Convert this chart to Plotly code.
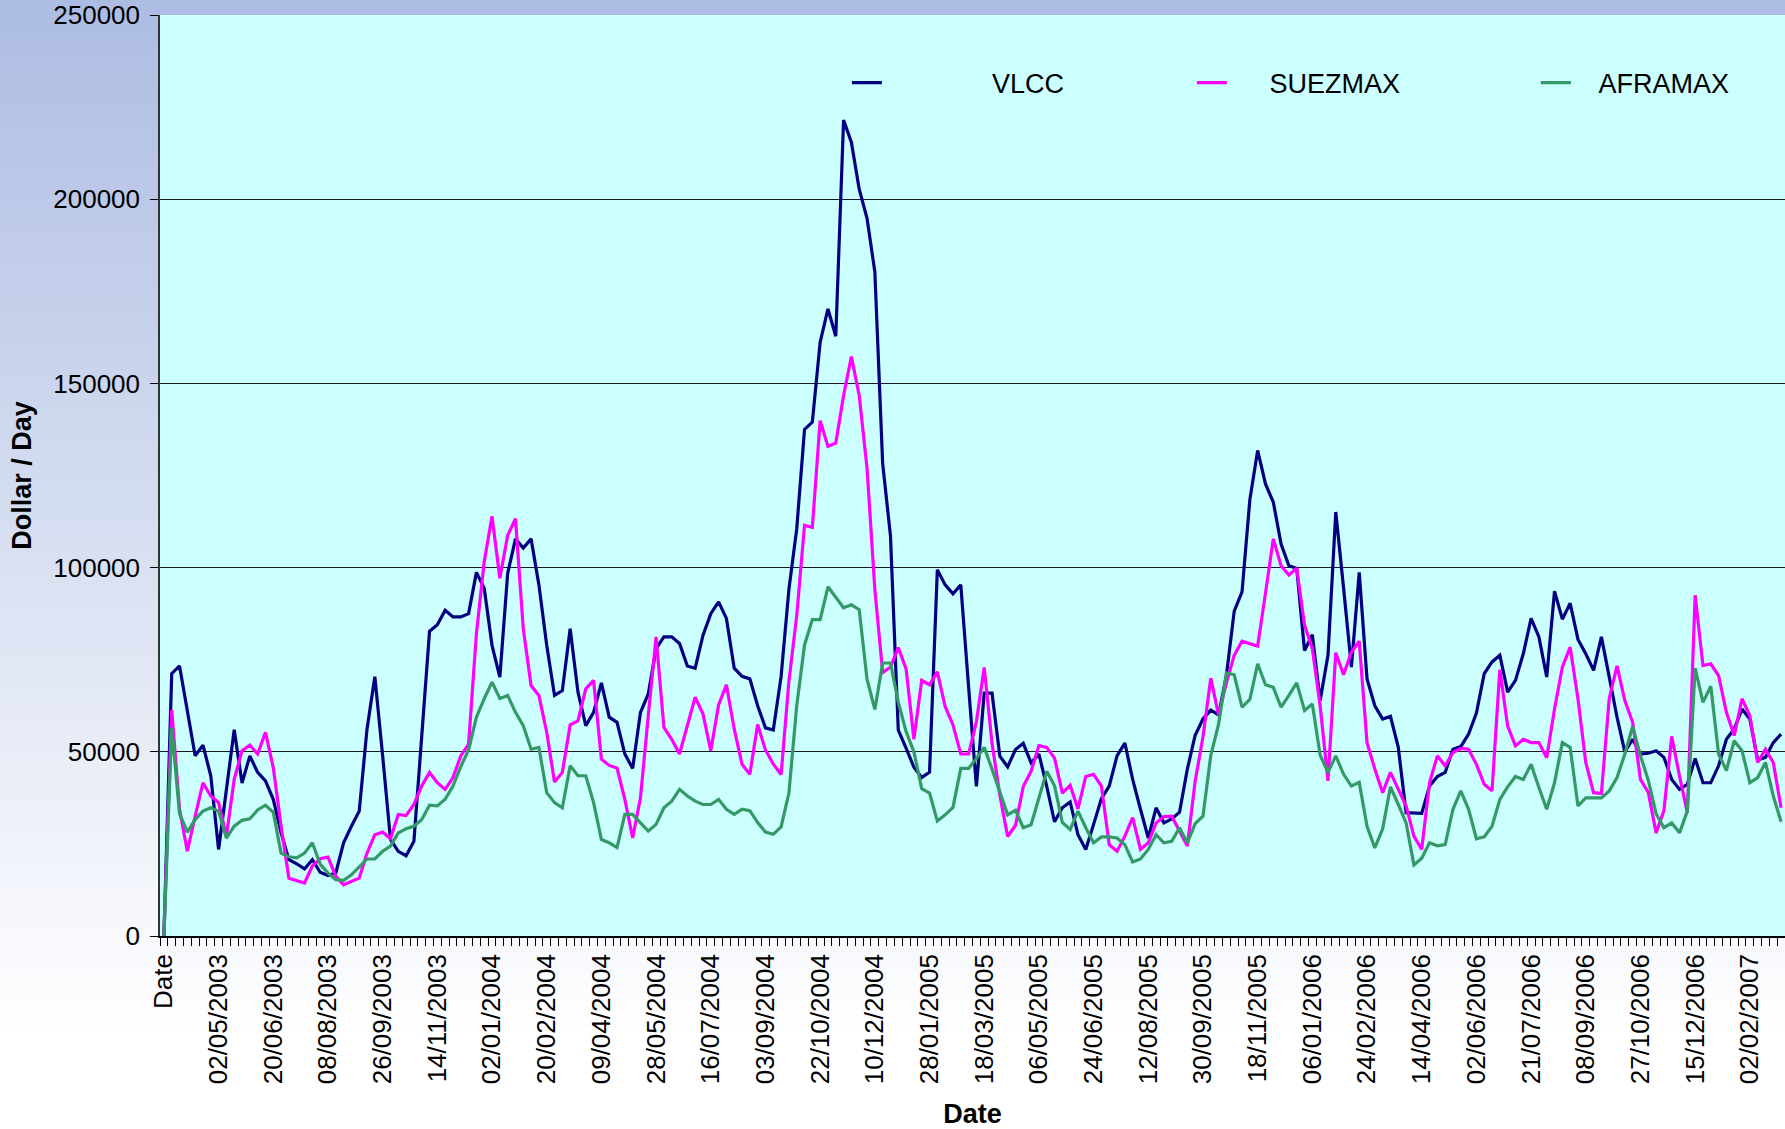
import plotly.graph_objects as go
import pandas as pd

# ---------------- data ----------------
first_category = "Date"
week_dates = pd.date_range("2003-03-21", periods=207, freq="7D").strftime("%d/%m/%Y").tolist()
categories = [first_category] + week_dates

tick_labels = ["Date", "02/05/2003", "20/06/2003", "08/08/2003", "26/09/2003", "14/11/2003",
               "02/01/2004", "20/02/2004", "09/04/2004", "28/05/2004", "16/07/2004",
               "03/09/2004", "22/10/2004", "10/12/2004", "28/01/2005", "18/03/2005",
               "06/05/2005", "24/06/2005", "12/08/2005", "30/09/2005", "18/11/2005",
               "06/01/2006", "24/02/2006", "14/04/2006", "02/06/2006", "21/07/2006",
               "08/09/2006", "27/10/2006", "15/12/2006", "02/02/2007"]

vlcc = [0, 71200, 73300, 61000, 48900, 51800, 43500, 23500, 39400, 56000,
        41500, 48900, 44400, 42100, 37100, 28000, 20700, 19600, 18200, 20700,
        17300, 16400, 17100, 25300, 29800, 33900, 56200, 70400, 48900, 26200,
        23000, 21800, 25700, 54800, 82700, 84500, 88400, 86600, 86600, 87500,
        98700, 94400, 78900, 70300, 98400, 107800, 105300, 107800, 95300, 78900,
        65300, 66600, 83400, 66200, 57100, 60700, 68700, 59400, 58000, 49400,
        45500, 60700, 65700, 78000, 81200, 81200, 79400, 73300, 72700, 81600,
        87500, 90700, 86200, 72700, 70500, 69800, 62500, 56500, 55900, 70400,
        94100, 110500, 137500, 139500, 161200, 170200, 162800, 221500, 215400, 202700,
        194800, 180300, 128300, 108600, 55900, 51000, 45800, 43000, 44500, 99400,
        95300, 92900, 95300, 67600, 40600, 65900, 65900, 48800, 45900, 50600,
        52300, 47000, 49400, 40600, 31000, 34800, 36400, 27500, 23500, 30300,
        37300, 40700, 48900, 52400, 42500, 34400, 26600, 34800, 30700, 31800,
        33600, 45300, 54500, 58900, 61300, 60000, 70700, 88200, 93400, 118400,
        131800, 122700, 117800, 106400, 100500, 99800, 77500, 81800, 63900, 76200,
        115100, 94400, 73000, 98700, 69800, 62500, 58900, 59600, 51200, 33500,
        33300, 33300, 40700, 43300, 44400, 50700, 51400, 54800, 60500, 71200,
        74400, 76200, 66200, 69400, 76600, 86200, 81200, 70300, 93600, 86000,
        90300, 80500, 76600, 72100, 81200, 70300, 59400, 50000, 53400, 49400,
        49600, 50300, 48500, 42500, 39800, 41200, 48200, 41600, 41600, 46200,
        53400, 56200, 61600, 58900, 47800, 48500, 52500, 54800]

suezmax = [0, 61400, 34400, 23000, 32500, 41600, 38000, 36200, 27100, 42500,
           50300, 51800, 49400, 55300, 45700, 29800, 15700, 15100, 14400, 19000,
           21000, 21400, 16200, 13900, 14800, 15700, 22500, 27500, 28200, 26400,
           33000, 32700, 35700, 40700, 44400, 41600, 39800, 43000, 48900, 52100,
           82000, 101600, 113900, 97100, 108700, 113300, 83400, 68000, 65300, 55300,
           41800, 44400, 57300, 58400, 67100, 69400, 48000, 46300, 45600, 37100,
           26600, 37500, 59800, 81200, 56600, 53400, 49400, 57500, 64800, 60300,
           50300, 62700, 68200, 56200, 46600, 43900, 57400, 50500, 46700, 43800,
           69100, 86900, 111500, 110900, 139900, 132900, 133800, 146700, 157300, 146700,
           127000, 94100, 71500, 73000, 78300, 72500, 53400, 69400, 68200, 71700,
           62300, 57300, 49400, 49400, 58200, 72900, 52300, 38200, 27000, 30000,
           40600, 44700, 51700, 51200, 48300, 38800, 40900, 34500, 43300, 43900,
           40700, 24800, 23000, 27100, 32100, 23500, 25300, 30700, 32400, 32500,
           28500, 24400, 42000, 54000, 70000, 60000, 68700, 76200, 80000, 79400,
           78700, 93000, 107800, 100500, 98000, 99800, 84400, 78000, 62500, 42100,
           76900, 70900, 77100, 80000, 52500, 45300, 38900, 44400, 39800, 35300,
           27100, 23500, 41600, 48900, 46200, 49800, 50900, 50700, 46600, 41200,
           39400, 72300, 57000, 51600, 53400, 52500, 52500, 48400, 61600, 73000,
           78400, 64400, 47100, 38900, 38700, 64400, 73300, 63900, 58000, 42500,
           39000, 28000, 34000, 54200, 43400, 33500, 92500, 73400, 73900, 70700,
           60700, 54400, 64400, 59800, 47100, 50700, 47100, 34800]

aframax = [0, 56600, 33200, 28200, 31600, 33900, 34800, 33900, 26600, 29800,
           31400, 31800, 34200, 35500, 33600, 22500, 21500, 21200, 22500, 25300,
           19500, 17100, 15300, 15100, 16600, 18900, 20900, 20900, 23000, 24400,
           28000, 29100, 29800, 31600, 35500, 35300, 37100, 40700, 46000, 50500,
           59400, 64400, 68900, 64500, 65300, 60700, 57100, 50700, 51200, 38900,
           36200, 34800, 46200, 43500, 43500, 36200, 26200, 25300, 24000, 33000,
           33000, 30700, 28500, 30300, 34800, 36600, 39800, 38000, 36600, 35700,
           35700, 37100, 34400, 33000, 34400, 34000, 30800, 28200, 27600, 29600,
           38800, 62500, 79000, 85900, 85900, 94800, 92100, 89100, 89900, 88600,
           69700, 61500, 74100, 74100, 63500, 55500, 50000, 40000, 38800, 31200,
           32900, 34900, 45500, 45500, 48200, 51200, 45300, 39400, 32900, 34100,
           29400, 30200, 37600, 44700, 40800, 30800, 28900, 33900, 29400, 25300,
           26900, 26900, 26600, 24800, 20100, 20900, 23500, 27500, 25300, 25700,
           29400, 25300, 30500, 32500, 49000, 57500, 71400, 70900, 62100, 64200,
           73900, 68200, 67500, 62100, 65300, 68700, 61200, 63000, 49100, 44400,
           48900, 43900, 40700, 41700, 29800, 23900, 29100, 40500, 35700, 30700,
           19300, 21100, 25300, 24500, 24800, 34400, 39400, 34400, 26400, 26900,
           29800, 37100, 40500, 43300, 42500, 46600, 40300, 34400, 41600, 52500,
           51200, 35300, 37500, 37500, 37500, 39400, 43000, 49400, 56900, 48900,
           42300, 33200, 29400, 30700, 28000, 33900, 72700, 63400, 67800, 49400,
           44900, 53000, 50300, 41600, 43000, 47100, 38000, 31000]

series_names = ["VLCC", "SUEZMAX", "AFRAMAX"]
series_colors = ["#000080", "#FF00FF", "#339966"]

# ---------------- figure ----------------
W, H = 1785, 1129
ML, MR, MT, MB = 160, 0, 15, 193

positions = list(range(len(categories)))
tick_positions = [categories.index(t) for t in tick_labels]

FONT = "Liberation Sans, Arial, sans-serif"
NB = "\u00a0"
legend_ids = ["legend", "legend2", "legend3"]
legend_x = [0.4227, 0.635, 0.8467]
legend_pad = [NB * 14, NB * 5, NB * 3]

fig = go.Figure()
for name, vals, col, pad, lid in zip(series_names, [vlcc, suezmax, aframax],
                                     series_colors, legend_pad, legend_ids):
    fig.add_trace(go.Scatter(
        x=positions, y=vals, mode="lines", name=pad + name, legend=lid,
        line=dict(color=col, width=3.2),
        customdata=categories,
        hovertemplate="%{customdata}: %{y}<extra>" + name + "</extra>",
    ))

# vertical background gradient (paper area), stripes slightly overlapping to avoid seams
plot_w = W - ML - MR
plot_h = H - MT - MB
y_top = 1 + MT / plot_h
y_bot = -MB / plot_h
shapes = []
nstripes = 80
top_rgb = (172, 188, 226)
overlap = 2.0 / plot_h
for k in range(nstripes):
    t0 = k / nstripes
    t1 = (k + 1) / nstripes
    f = min(1.0, ((t0 + t1) / 2) / 0.92)
    r = round(top_rgb[0] + (255 - top_rgb[0]) * f)
    g = round(top_rgb[1] + (255 - top_rgb[1]) * f)
    b = round(top_rgb[2] + (255 - top_rgb[2]) * f)
    y1 = y_top + (y_bot - y_top) * t0 + overlap
    y0 = y_top + (y_bot - y_top) * t1
    if k == 0:
        y1 += 0.05
    if k == nstripes - 1:
        y0 -= 0.05
    shapes.append(dict(type="rect", xref="paper", yref="paper", layer="below",
                       x0=-0.5, x1=1.5, y0=y0, y1=y1,
                       line=dict(width=0), fillcolor=f"rgb({r},{g},{b})"))
shapes.append(dict(type="rect", xref="paper", yref="paper", layer="below",
                   x0=0, x1=1, y0=0, y1=1, line=dict(width=0), fillcolor="#CCFFFF"))

legend_common = dict(orientation="h", xanchor="left", y=0.926, yanchor="middle",
                     bgcolor="rgba(0,0,0,0)", borderwidth=0,
                     font=dict(family=FONT, size=27, color="black"))

fig.update_layout(
    width=W, height=H,
    margin=dict(l=ML, r=MR, t=MT, b=MB, pad=0, autoexpand=False),
    paper_bgcolor="white",
    plot_bgcolor="#CCFFFF",
    font=dict(family=FONT, size=26, color="black"),
    shapes=shapes,
    showlegend=True,
    legend=dict(x=legend_x[0], **legend_common),
    legend2=dict(x=legend_x[1], **legend_common),
    legend3=dict(x=legend_x[2], **legend_common),
    xaxis=dict(
        range=[-0.5, len(categories) - 0.5],
        tickmode="array", tickvals=tick_positions, ticktext=tick_labels,
        tickangle=-90, ticks="", showgrid=False, zeroline=False,
        showline=True, linecolor="black", linewidth=1.5,
        tickfont=dict(family=FONT, size=26, color="black"),
        minor=dict(ticks="outside", tick0=-0.5, dtick=1, ticklen=8,
                   tickcolor="black", tickwidth=1, showgrid=False),
        ticklabelstandoff=6,
        title=dict(text="<b>Date</b>", font=dict(family=FONT, size=27, color="black"), standoff=24),
        automargin=False,
    ),
    yaxis=dict(
        range=[0, 250000], tickmode="linear", tick0=0, dtick=50000, tickformat="d",
        ticks="outside", ticklen=8, tickcolor="black",
        showgrid=True, gridcolor="#1a1a1a", gridwidth=1, zeroline=False,
        showline=True, linecolor="#333333", linewidth=1.5,
        tickfont=dict(family=FONT, size=26, color="black"),
        ticklabelstandoff=5,
        title=dict(text="<b>Dollar / Day</b>", font=dict(family=FONT, size=27, color="black"), standoff=14),
        automargin=False,
    ),
)

fig.write_html("out.html", config={"displayModeBar": False},
               post_script="document.body.style.margin='0';document.body.style.overflow='hidden';")
